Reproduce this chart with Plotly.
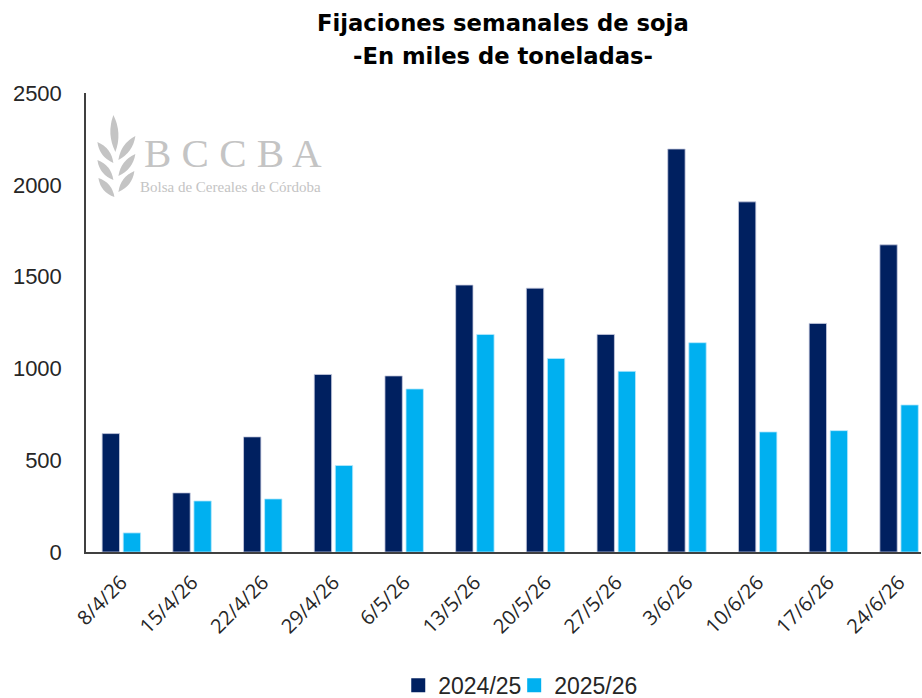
import plotly.graph_objects as go

categories = ["8/4/26", "15/4/26", "22/4/26", "29/4/26", "6/5/26", "13/5/26",
              "20/5/26", "27/5/26", "3/6/26", "10/6/26", "17/6/26", "24/6/26"]
s2024 = [645, 322, 627, 967, 959, 1454, 1437, 1185, 2195, 1907, 1245, 1673]
s2025 = [104, 278, 289, 471, 888, 1185, 1054, 984, 1140, 654, 661, 801]
series_names = ["2024/25", "2025/26"]
ytick_vals = [0, 500, 1000, 1500, 2000, 2500]

C_DARK, C_LIGHT = "#002060", "#00B0F0"

W, H = 922, 698
L, R, T = 85.6, 1.0, 93.0
B = H - 552.5
PW, PH = W - L - R, H - T - B

def px(x, y):
    # screen pixel -> paper coordinates
    return (x - L) / PW, (H - B - y) / PH

fig = go.Figure()
fig.add_bar(name=series_names[0], x=categories, y=s2024, showlegend=False,
            marker=dict(color=C_DARK, line=dict(color="#c8cce0", width=0.8)))
fig.add_bar(name=series_names[1], x=categories, y=s2025, showlegend=False,
            marker=dict(color=C_LIGHT, line=dict(color="#b8e8fb", width=0.8)))
# legend entries with square symbols, one legend each for exact placement
for nm, col, lg in zip(series_names, [C_DARK, C_LIGHT], ["legend", "legend2"]):
    fig.add_scatter(name=nm, x=[None], y=[None], mode="markers", legend=lg,
                    marker=dict(symbol="square", size=14, color=col), showlegend=True)

# watermark leaf (decoration)
def leaf(bx, by, tx, ty, w):
    dx, dy = tx - bx, ty - by
    n = (dx * dx + dy * dy) ** 0.5
    nx, ny = -dy / n * w, dx / n * w
    mx, my = (bx + tx) / 2, (by + ty) / 2
    pts = [(bx, by), (mx + nx, my + ny), (tx, ty), (mx - nx, my - ny)]
    p = [px(*q) for q in pts]
    return (f"M {p[0][0]},{p[0][1]} Q {p[1][0]},{p[1][1]} {p[2][0]},{p[2][1]} "
            f"Q {p[3][0]},{p[3][1]} {p[0][0]},{p[0][1]} Z")

shapes = []
leaves = [
    (115, 152, 113, 115, 8),
    (118, 160, 135, 136, 7.5),
    (113, 163, 97, 142, 7.5),
    (118, 176, 135, 154, 7.5),
    (113, 180, 97, 160, 7.5),
    (118, 192, 134, 171, 7.5),
    (114, 197, 98, 178, 7.5),
]
for lf in leaves:
    shapes.append(dict(type="path", xref="paper", yref="paper", path=leaf(*lf),
                       fillcolor="#c4c4c4", line=dict(width=0), layer="below"))

ax, ay = px(142, 153)
bx2, by2 = px(138, 187)
t1x, t1y = px(503, 22.5)
t2x, t2y = px(503, 56)
title_font = dict(family="DejaVu Sans, Liberation Sans, sans-serif", size=22.7, color="#000000")
annotations = [
    dict(text="B C C B A", x=ax, y=ay, xref="paper", yref="paper", showarrow=False,
         xanchor="left", yanchor="middle",
         font=dict(family="Liberation Serif, DejaVu Serif, serif", size=41, color="#c4c4c4")),
    dict(text="Bolsa de Cereales de Córdoba", x=bx2, y=by2, xref="paper", yref="paper",
         showarrow=False, xanchor="left", yanchor="middle",
         font=dict(family="Liberation Serif, DejaVu Serif, serif", size=15, color="#c4c4c4")),
    dict(text="<b>Fijaciones semanales de soja</b>", x=t1x, y=t1y, xref="paper", yref="paper",
         showarrow=False, xanchor="center", yanchor="middle", font=title_font),
    dict(text="<b>-En miles de toneladas-</b>", x=t2x, y=t2y, xref="paper", yref="paper",
         showarrow=False, xanchor="center", yanchor="middle", font=title_font),
]

l1x, ly = px(398, 686)
l2x, _ = px(514, 686)
leg_common = dict(orientation="h", yanchor="middle", xanchor="left", y=ly,
                  font=dict(size=23, color="#262626"), itemwidth=30,
                  bgcolor="rgba(0,0,0,0)")
fig.update_layout(
    width=W, height=H,
    margin=dict(l=L, r=R, t=T, b=B, autoexpand=False),
    paper_bgcolor="white", plot_bgcolor="white",
    barmode="group", bargap=0.404, bargroupgap=0.176,
    font=dict(family="Liberation Sans, Arial, sans-serif", color="#262626"),
    xaxis=dict(range=[-0.5, 11.31], tickangle=-45, showgrid=False, automargin=False,
               showline=True, linecolor="#404040", linewidth=1.5,
               tickfont=dict(size=20, family="Open Sans, Liberation Sans, sans-serif", color="#262626"),
               ticks="", ticklabelstandoff=9, fixedrange=True),
    yaxis=dict(range=[0, 2500], tickvals=ytick_vals, showgrid=False, zeroline=False, automargin=False,
               showline=True, linecolor="#404040", linewidth=1.5,
               tickfont=dict(size=22, color="#262626"), ticklabelstandoff=18, ticks=""),
    legend=dict(x=l1x, **leg_common),
    legend2=dict(x=l2x, **leg_common),
    shapes=shapes, annotations=annotations,
)

fig.write_html("out.html", config={"displayModeBar": False},
               post_script="document.body.style.margin='0';document.body.style.overflow='hidden';")
